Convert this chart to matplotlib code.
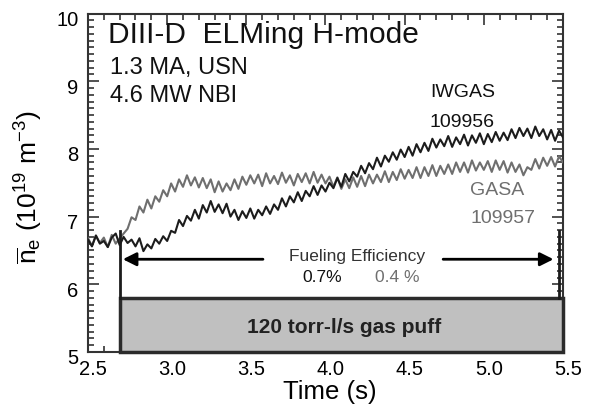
import numpy as np
import matplotlib
matplotlib.use("Agg")
import matplotlib.pyplot as plt
from matplotlib.patches import Rectangle
from matplotlib.transforms import ScaledTranslation
from matplotlib.ticker import MultipleLocator

plt.rcParams['font.family'] = ['Liberation Sans', 'DejaVu Sans']
plt.rcParams['mathtext.fontset'] = 'custom'
plt.rcParams['mathtext.rm'] = 'Liberation Sans'
plt.rcParams['mathtext.it'] = 'Liberation Sans:italic'
plt.rcParams['mathtext.bf'] = 'Liberation Sans:bold'

# sampling grid (s)
time = np.linspace(2.5, 5.5, 121)

# IWGAS shot 109956 line-averaged density (1e19 m^-3)
ne_109956 = [
    6.66, 6.56, 6.72, 6.60, 6.64, 6.55, 6.69, 6.75, 6.58, 6.70,
    6.61, 6.66, 6.56, 6.68, 6.49, 6.59, 6.53, 6.67, 6.60, 6.71,
    6.64, 6.79, 6.76, 6.95, 6.86, 7.01, 6.94, 7.10, 6.97, 7.17,
    7.06, 7.23, 7.07, 7.18, 7.05, 7.19, 7.00, 7.10, 6.95, 7.08,
    6.98, 7.12, 6.97, 7.10, 7.02, 7.15, 7.04, 7.18, 7.10, 7.27,
    7.15, 7.30, 7.21, 7.36, 7.23, 7.38, 7.30, 7.45, 7.32, 7.46,
    7.37, 7.50, 7.42, 7.57, 7.44, 7.63, 7.52, 7.66, 7.59, 7.75,
    7.64, 7.79, 7.70, 7.87, 7.74, 7.90, 7.81, 7.95, 7.84, 7.99,
    7.88, 8.03, 7.90, 8.07, 7.95, 8.09, 7.97, 8.15, 8.02, 8.14,
    8.04, 8.19, 8.03, 8.17, 8.07, 8.21, 8.05, 8.20, 8.09, 8.23,
    8.07, 8.22, 8.10, 8.25, 8.12, 8.24, 8.13, 8.29, 8.16, 8.31,
    8.19, 8.30, 8.16, 8.33, 8.19, 8.29, 8.14, 8.28, 8.12, 8.27,
    8.17,
]

# GASA shot 109957
ne_109957 = [
    6.68, 6.57, 6.72, 6.61, 6.69, 6.55, 6.73, 6.60, 6.68, 6.75,
    6.82, 6.99, 6.95, 7.15, 7.06, 7.25, 7.12, 7.30, 7.22, 7.39,
    7.30, 7.49, 7.37, 7.55, 7.44, 7.61, 7.46, 7.58, 7.43, 7.57,
    7.42, 7.55, 7.36, 7.52, 7.37, 7.49, 7.39, 7.55, 7.41, 7.59,
    7.47, 7.61, 7.49, 7.62, 7.45, 7.64, 7.49, 7.60, 7.48, 7.65,
    7.50, 7.61, 7.46, 7.63, 7.51, 7.64, 7.49, 7.66, 7.50, 7.62,
    7.49, 7.59, 7.44, 7.58, 7.41, 7.55, 7.42, 7.58, 7.44, 7.60,
    7.45, 7.62, 7.49, 7.62, 7.51, 7.67, 7.51, 7.66, 7.54, 7.70,
    7.56, 7.69, 7.57, 7.73, 7.57, 7.73, 7.60, 7.76, 7.60, 7.75,
    7.63, 7.77, 7.63, 7.80, 7.66, 7.80, 7.65, 7.83, 7.68, 7.80,
    7.69, 7.82, 7.66, 7.83, 7.69, 7.82, 7.65, 7.80, 7.66, 7.77,
    7.61, 7.73, 7.69, 7.85, 7.71, 7.87, 7.75, 7.88, 7.74, 7.89,
    7.80,
]

puff_start, puff_end = 2.70, 5.5
puff_marker_end = 5.475
puff_level = 5.8
marker_top = 6.78
arrow_y = 6.37

x_ticks = [2.5, 3.0, 3.5, 4.0, 4.5, 5.0, 5.5]
y_ticks = [5, 6, 7, 8, 9, 10]

BLACK = '#1c1c1c'
GRAY = '#6f6f6f'

fig = plt.figure(figsize=(5.95, 4.04), dpi=100)
ax = fig.add_axes([88/595, 1-352/404, (563-88)/595, (352-13.5)/404])

ax.plot(time, ne_109957, color=GRAY, lw=1.5, zorder=3)
ax.plot(time, ne_109956, color=BLACK, lw=1.5, zorder=4)

# gas puff box
ax.add_patch(Rectangle((puff_start, 5.0), puff_end - puff_start, puff_level - 5.0,
                       facecolor='#c0c0c0', edgecolor='#2b2b2b', lw=2.5, zorder=5,
                       clip_on=False))
ax.plot([puff_start, puff_start], [puff_level, marker_top], color=BLACK, lw=2, zorder=5)
ax.plot([puff_marker_end, puff_marker_end], [puff_level, marker_top], color=BLACK, lw=2, zorder=5)
ax.text((puff_start + puff_end) / 2 + 0.02, 5.28, '120 torr-l/s gas puff', fontsize=15,
        fontweight='bold', ha='center', va='baseline', color='#222222', zorder=6)

# arrows
ax.annotate('', xy=(2.72, arrow_y), xytext=(3.605, arrow_y),
            arrowprops=dict(arrowstyle='-|>', lw=2, color='black', mutation_scale=20,
                            shrinkA=0, shrinkB=0))
ax.annotate('', xy=(5.44, arrow_y), xytext=(4.743, arrow_y),
            arrowprops=dict(arrowstyle='-|>', lw=2, color='black', mutation_scale=20,
                            shrinkA=0, shrinkB=0))
ax.text(4.199, 6.344, 'Fueling Efficiency', fontsize=12.5, ha='center', va='baseline', color='#333333')
ax.text(3.978, 6.034, '0.7%', fontsize=12.5, ha='center', va='baseline', color='#111111')
ax.text(4.452, 6.034, '0.4 %', fontsize=12.5, ha='center', va='baseline', color=GRAY)

# annotations
ax.text(2.626, 9.564, 'DIII-D  ELMing H-mode', fontsize=21.5, ha='left', va='baseline', color='#111111')
ax.text(2.64, 9.106, '1.3 MA, USN', fontsize=17, ha='left', va='baseline', color='#111111')
ax.text(2.64, 8.693, '4.6 MW NBI', fontsize=17, ha='left', va='baseline', color='#111111')
ax.text(4.66, 8.767, 'IWGAS', fontsize=14, ha='left', va='baseline', color='#111111')
ax.text(4.66, 8.323, '109956', fontsize=14, ha='left', va='baseline', color='#111111')
ax.text(4.915, 7.319, 'GASA', fontsize=14, ha='left', va='baseline', color=GRAY)
ax.text(4.915, 6.905, '109957', fontsize=14, ha='left', va='baseline', color=GRAY)

ax.set_xlim(2.5, 5.5)
ax.set_ylim(5, 10)
ax.set_xticks(x_ticks)
ax.set_xticklabels([f'{v:.1f}' for v in x_ticks])
ax.set_yticks(y_ticks)
ax.set_yticklabels([str(v) for v in y_ticks])
ax.xaxis.set_minor_locator(MultipleLocator(0.1))
ax.yaxis.set_minor_locator(MultipleLocator(0.1))
ax.tick_params(which='both', direction='in', top=True, right=True, colors='#333333',
               labelcolor='black', labelsize=14.5, width=1.2)
ax.tick_params(which='major', length=8)
ax.tick_params(which='minor', length=4)
ax.tick_params(axis='y', which='major', pad=7)
ax.tick_params(axis='x', which='major', pad=6)
for sp in ax.spines.values():
    sp.set_linewidth(1.5)
    sp.set_color('#333333')

off_x = ScaledTranslation(5/100, 0, fig.dpi_scale_trans)
for lab in ax.get_xticklabels():
    lab.set_transform(lab.get_transform() + off_x)
off_y = ScaledTranslation(0, -5/100, fig.dpi_scale_trans)
for lab in ax.get_yticklabels():
    lab.set_transform(lab.get_transform() + off_y)

ax.set_xlabel('Time (s)', fontsize=18.5, labelpad=0)
ax.set_ylabel(r'$\overline{\mathrm{n}}_{\mathrm{e}}\ (10^{19}\ \mathrm{m}^{-3})$', fontsize=19)
ax.yaxis.set_label_coords(-43/475, 0.487)
ax.xaxis.set_label_coords(0.51, -0.083)

fig.savefig('out.png', dpi=100)
